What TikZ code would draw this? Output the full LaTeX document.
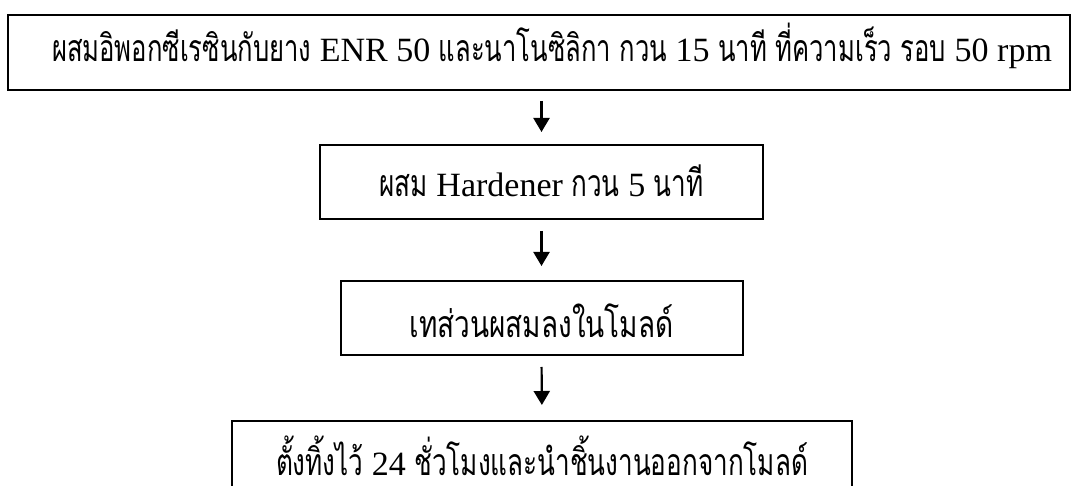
\documentclass[tikz,border=0pt]{standalone}
\usepackage{fontspec}
\usepackage{graphicx}
\setmainfont{Liberation Serif}
\newfontfamily\thaifont[Script=Thai,Scale=1.1]{Loma}
\usetikzlibrary{arrows.meta}
\newlength\wfull
\newlength\wlat
\newif\ifthaion
\thaiontrue
\def\thsx{1}
\def\lastsx{1}
\newcommand\thx[1]{\ifthaion\scalebox{\thsx}[1]{\thaifont #1}\fi}
\newcommand\fitline[2]{%
  \begingroup
  \def\thsx{1}%
  \thaiontrue\settowidth\wfull{#2}%
  \thaionfalse\settowidth\wlat{#2}%
  \pgfmathsetmacro\thsx{(#1-\wlat)/(\wfull-\wlat)}%
  \global\let\lastsx\thsx
  \thaiontrue #2%
  \endgroup}
\tikzset{
  stepbox/.style={draw, line width=2pt, inner sep=0pt, font=\fontsize{34}{40}\selectfont},
  flow/.style={line width=2.2pt, -{Triangle[width=16pt,length=14pt]}},
}
\begin{document}
\begin{tikzpicture}[x=1pt,y=-1pt]
\useasboundingbox (0,0) rectangle (1072,486);
% boxes
\node[stepbox, minimum width=1062pt, minimum height=75pt, text height=22pt, text depth=3pt] (b1) at (539,52.5)
  {\hspace*{26pt}\fitline{1000pt}{\thx{ผสมอิพอกซีเรซินกับยาง} ENR 50 \thx{และนาโนซิลิกา กวน} 15 \thx{นาที ที่ความเร็ว รอบ} 50 rpm}};
\node[stepbox, minimum width=402pt, minimum height=74pt, text height=40pt, text depth=0pt] (b3) at (541.5,318)
  {\fitline{264pt}{\thx{เทส่วนผสมลงในโมลด์}}};
\node[stepbox, minimum width=620pt, minimum height=79pt, text height=30pt, text depth=0pt] (b4) at (542,460.5)
  {\fitline{532pt}{\thx{ตั้งทิ้งไว้} 24 \thx{ชั่วโมงและนำชิ้นงานออกจากโมลด์}}};
\node[stepbox, minimum width=443pt, minimum height=74pt, text height=30pt, text depth=0pt] (b2) at (541.5,182)
  {\let\thsx\lastsx\thx{ผสม} Hardener \thx{กวน} 5 \thx{นาที}};
% arrows
\draw[flow, shorten <=10pt, shorten >=12pt] (b1.south -| b2.north) -- (b2.north);
\draw[flow, shorten <=11pt, shorten >=14pt] (b2.south) -- (b3.north);
\draw[flow, shorten <=11pt, shorten >=15pt] (b3.south) -- (b4.north);
\end{tikzpicture}
\end{document}
